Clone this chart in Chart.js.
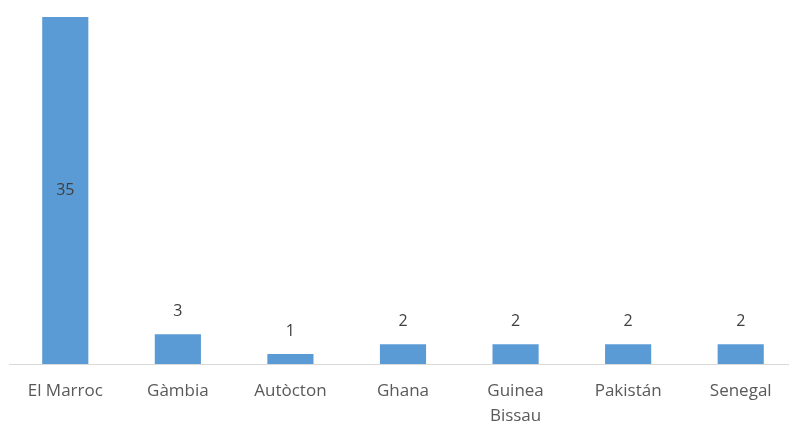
<!DOCTYPE html>
<html>
<head>
<meta charset="utf-8">
<script src="https://cdn.jsdelivr.net/npm/chart.js@4/dist/chart.umd.min.js"></script>
<style>
  html, body { margin: 0; padding: 0; background: #fff; overflow: hidden; }
  #wrap { width: 800px; height: 424px; }
</style>
</head>
<body>
<div id="wrap"><canvas id="chart" width="800" height="424"></canvas></div>
<script>
const countries = ['El Marroc', 'Gàmbia', 'Autòcton', 'Ghana', ['Guinea', 'Bissau'], 'Pakistán', 'Senegal']
const people = [35, 3, 1, 2, 2, 2, 2]

// simple value labels: first (tall) bar gets it centred, others above the bar
const valueLabels = {
  id: 'valueLabels',
  afterDatasetsDraw(chart) {
    const ctx = chart.ctx
    const meta = chart.getDatasetMeta(0)
    ctx.save()
    ctx.font = '16px "Open Sans"'
    ctx.fillStyle = '#404040'
    ctx.textAlign = 'center'
    ctx.textBaseline = 'middle'
    meta.data.forEach((bar, i) => {
      const v = people[i]
      let y = bar.y - 23
      if (v > 10) y = (bar.y + bar.base) / 2
      ctx.fillText(String(v), bar.x, y)
    })
    ctx.restore()
  }
}

new Chart(document.getElementById('chart'), {
  type: 'bar',
  data: {
    labels: countries,
    datasets: [{
      data: people,
      backgroundColor: '#5b9bd5',
      barPercentage: 0.41,
      categoryPercentage: 1
    }]
  },
  options: {
    responsive: false,
    animation: false,
    layout: { padding: { left: 9, right: 3, top: 17, bottom: 0 } },
    plugins: { legend: { display: false }, tooltip: { enabled: false } },
    scales: {
      x: {
        grid: { display: false, drawTicks: false },
        border: { color: '#d9d9d9', width: 1 },
        ticks: {
          color: '#595959',
          font: { family: '"Open Sans"', size: 17, lineHeight: 1.5 },
          padding: 14,
          maxRotation: 0,
          autoSkip: false
        },
        afterFit(scale) { scale.height = 60 }
      },
      y: {
        display: false,
        min: 0,
        max: 35
      }
    }
  },
  plugins: [valueLabels]
})
</script>
</body>
</html>
